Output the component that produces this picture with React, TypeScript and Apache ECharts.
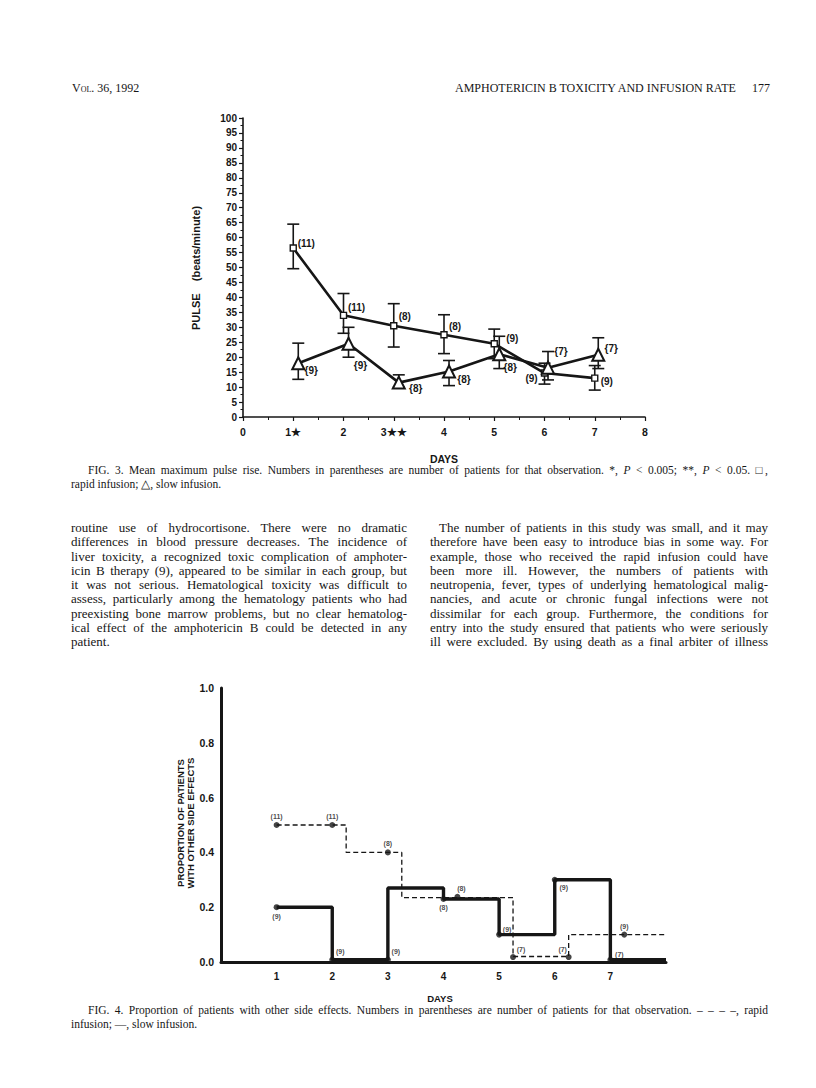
import React, { useEffect, useRef } from 'react';
import * as echarts from 'echarts';

// ---------- FIG. 3 data (pulse rise) ----------
const pulseTicks = [0, 1, 2, 3, 4, 5, 6, 7, 8];
const pulseTickLabels = ['0', '1★', '2', '3★★', '4', '5', '6', '7', '8'];
const rapidDays = [1, 2, 3, 4, 5, 6, 7];
const rapidMean = [56.5, 34, 30.5, 27.5, 24.5, 14.7, 13];
const rapidLow = [49.6, 28, 23.4, 21.2, 19.5, 11, 9];
const rapidHigh = [64.5, 41.3, 37.9, 34.2, 29.4, 18, 17.2];
const rapidN = ['(11)', '(11)', '(8)', '(8)', '(9)', '(9)', '(9)'];
const slowDays = [1.1, 2.1, 3.1, 4.1, 5.1, 6.07, 7.07];
const slowMean = [18, 24.5, 11.5, 15.2, 21, 16.5, 20.8];
const slowLow = [12.6, 20, 10, 10.5, 16.2, 12.4, 16.2];
const slowHigh = [24.7, 30, 14.1, 18.9, 27, 21.9, 26.5];
const slowN = ['{9}', '{9}', '{8}', '{8}', '{8}', '{7}', '{7}'];

// ---------- FIG. 4 data (proportion with other side effects) ----------
const propTicks = [0, 0.2, 0.4, 0.6, 0.8, 1.0];
const rapidStepX = [1, 2.25, 3.25, 5.25, 6.25, 8];
const rapidStepY = [0.5, 0.4, 0.235, 0.02, 0.1, 0.1];
const slowStepX = [1, 2, 3, 4, 5, 6, 7, 8];
const slowStepY = [0.2, 0.008, 0.27, 0.23, 0.1, 0.3, 0.008, 0.008];
const rapidDotX = [1, 2, 3, 4.25, 5.25, 6.25, 7.25];
const rapidDotY = [0.5, 0.5, 0.4, 0.238, 0.018, 0.018, 0.1];
const rapidDotN = ['(11)', '(11)', '(8)', '(8)', '(7)', '(7)', '(9)'];
const slowDotX = [1, 2, 3, 4, 5, 6, 7];
const slowDotY = [0.2, 0.008, 0.008, 0.23, 0.1, 0.3, 0.008];
const slowDotN = ['(9)', '(9)', '(9)', '(8)', '(9)', '(9)', '(7)'];

// label offsets (styling, px)
const rapidLabelOff = [[13, -5], [13, -8], [11, -9], [11, -8], [18, -5], [-13, 5], [12, 3]];
const slowLabelOff = [[13, 7], [12, 22], [17, 6], [15, 8], [11, 13], [13, -16], [13, -6]];
const rapidDotOff = [[0, -9], [0, -9], [0, -9], [4, -8], [8, -8], [-6, -8], [0, -8]];
const slowDotOff = [[0, 9], [8, -8], [8, -8], [0, 9], [8, -5], [9, 8], [9, -5]];

const INK = '#161616';
const SANS = '"Liberation Sans", Arial, sans-serif';
const SERIF = '"Liberation Serif", "Times New Roman", serif';

const leftCol = [
  'routine use of hydrocortisone. There were no dramatic',
  'differences in blood pressure decreases. The incidence of',
  'liver toxicity, a recognized toxic complication of amphoter-',
  'icin B therapy (9), appeared to be similar in each group, but',
  'it was not serious. Hematological toxicity was difficult to',
  'assess, particularly among the hematology patients who had',
  'preexisting bone marrow problems, but no clear hematolog-',
  'ical effect of the amphotericin B could be detected in any',
  'patient.',
];
const rightCol = [
  'The number of patients in this study was small, and it may',
  'therefore have been easy to introduce bias in some way. For',
  'example, those who received the rapid infusion could have',
  'been more ill. However, the numbers of patients with',
  'neutropenia, fever, types of underlying hematological malig-',
  'nancies, and acute or chronic fungal infections were not',
  'dissimilar for each group. Furthermore, the conditions for',
  'entry into the study ensured that patients who were seriously',
  'ill were excluded. By using death as a final arbiter of illness',
];

function errorBarRender(params: any, api: any) {
  const x = api.value(0);
  const lo = api.value(1);
  const hi = api.value(2);
  const p1 = api.coord([x, hi]);
  const p2 = api.coord([x, lo]);
  const w = 6;
  const st = { stroke: INK, lineWidth: 1.6 };
  return {
    type: 'group',
    children: [
      { type: 'line', shape: { x1: p1[0], y1: p1[1], x2: p2[0], y2: p2[1] }, style: st },
      { type: 'line', shape: { x1: p1[0] - w, y1: p1[1], x2: p1[0] + w, y2: p1[1] }, style: st },
      { type: 'line', shape: { x1: p2[0] - w, y1: p2[1], x2: p2[0] + w, y2: p2[1] }, style: st },
    ],
  };
}

function Line({ text, left, top, width, justify, indent, size, lh }: any) {
  return (
    <div
      style={{
        position: 'absolute',
        left,
        top,
        width,
        fontFamily: SERIF,
        fontSize: size,
        lineHeight: lh + 'px',
        color: INK,
        whiteSpace: 'nowrap',
        textAlign: justify ? 'justify' : 'left',
        textAlignLast: justify ? 'justify' : 'left',
        textIndent: indent || 0,
      } as any}
      dangerouslySetInnerHTML={{ __html: text }}
    />
  );
}

export default function App() {
  const ref = useRef<HTMLDivElement>(null);

  useEffect(() => {
    if (!ref.current) return;
    const chart = echarts.init(ref.current, undefined, { renderer: 'svg' });
    const lbl = (s: string, off: number[], fs: number) => ({
      show: true,
      position: 'inside',
      offset: off,
      formatter: () => s,
      fontFamily: SANS,
      fontWeight: 'bold',
      fontSize: fs,
      color: INK,
      textBorderWidth: 0,
      textBorderColor: 'transparent',
      textShadowBlur: 0,
    });

    const option: any = {
      animation: false,
      backgroundColor: 'transparent',
      grid: [
        { left: 243, top: 118, width: 402, height: 299 },
        { left: 221, top: 688, width: 445, height: 274 },
      ],
      xAxis: [
        {
          gridIndex: 0,
          type: 'value',
          min: 0,
          max: 8,
          interval: 1,
          axisLine: { lineStyle: { color: INK, width: 1.6 } },
          axisTick: { show: true, length: 4, lineStyle: { color: INK, width: 1.2 } },
          minorTick: { show: true, splitNumber: 2, length: 3, lineStyle: { color: INK, width: 1 } },
          splitLine: { show: false },
          axisLabel: {
            margin: 9,
            fontFamily: SANS,
            fontWeight: 'bold',
            fontSize: 10.5,
            color: INK,
            formatter: (v: number) => {
              const i = pulseTicks.indexOf(v);
              return i >= 0 ? pulseTickLabels[i] : '';
            },
          },
        },
        {
          gridIndex: 1,
          type: 'value',
          min: 0,
          max: 8,
          interval: 1,
          axisLine: { lineStyle: { color: INK, width: 3 } },
          axisTick: { show: false },
          splitLine: { show: false },
          axisLabel: {
            margin: 9,
            fontFamily: SANS,
            fontWeight: 'bold',
            fontSize: 10,
            color: INK,
            formatter: (v: number) => (v === 0 || v === 8 ? '' : String(v)),
          },
        },
      ],
      yAxis: [
        {
          gridIndex: 0,
          type: 'value',
          min: 0,
          max: 100,
          interval: 5,
          axisLine: { show: true, lineStyle: { color: INK, width: 1.6 } },
          axisTick: { show: true, length: 4, lineStyle: { color: INK, width: 1.2 } },
          minorTick: { show: true, splitNumber: 2, length: 2.5, lineStyle: { color: INK, width: 1 } },
          splitLine: { show: false },
          axisLabel: { margin: 6, fontFamily: SANS, fontWeight: 'bold', fontSize: 10, color: INK },
        },
        {
          gridIndex: 1,
          type: 'value',
          min: 0,
          max: 1,
          interval: 0.2,
          axisLine: { show: true, lineStyle: { color: INK, width: 3 } },
          axisTick: { show: false },
          splitLine: { show: false },
          axisLabel: {
            margin: 7,
            fontFamily: SANS,
            fontWeight: 'bold',
            fontSize: 10.5,
            color: INK,
            formatter: (v: number) => {
              const i = propTicks.findIndex((t) => Math.abs(t - v) < 1e-6);
              return i >= 0 ? propTicks[i].toFixed(1) : '';
            },
          },
        },
      ],
      series: [
        {
          type: 'custom',
          xAxisIndex: 0,
          yAxisIndex: 0,
          renderItem: errorBarRender,
          encode: { x: 0, y: [1, 2] },
          data: rapidDays.map((d, i) => [d, rapidLow[i], rapidHigh[i]]),
          z: 2,
        },
        {
          type: 'custom',
          xAxisIndex: 0,
          yAxisIndex: 0,
          renderItem: errorBarRender,
          encode: { x: 0, y: [1, 2] },
          data: slowDays.map((d, i) => [d, slowLow[i], slowHigh[i]]),
          z: 2,
        },
        {
          type: 'line',
          xAxisIndex: 0,
          yAxisIndex: 0,
          symbol: 'rect',
          symbolSize: 6,
          lineStyle: { color: INK, width: 2.6 },
          itemStyle: { color: '#fff', borderColor: INK, borderWidth: 1.4 },
          data: rapidDays.map((d, i) => ({
            value: [d, rapidMean[i]],
            label: lbl(rapidN[i], rapidLabelOff[i], 10),
          })),
          z: 3,
        },
        {
          type: 'line',
          xAxisIndex: 0,
          yAxisIndex: 0,
          symbol: 'triangle',
          symbolSize: 12,
          lineStyle: { color: INK, width: 2.6 },
          itemStyle: { color: '#fff', borderColor: INK, borderWidth: 2 },
          data: slowDays.map((d, i) => ({
            value: [d, slowMean[i]],
            label: lbl(slowN[i], slowLabelOff[i], 10),
          })),
          z: 3,
        },
        {
          type: 'line',
          xAxisIndex: 1,
          yAxisIndex: 1,
          step: 'end',
          symbol: 'none',
          lineStyle: { color: INK, width: 1.3, type: [5, 3] },
          data: rapidStepX.map((x, i) => [x, rapidStepY[i]]),
          z: 2,
        },
        {
          type: 'line',
          xAxisIndex: 1,
          yAxisIndex: 1,
          step: 'end',
          symbol: 'none',
          lineStyle: { color: INK, width: 3.4 },
          data: slowStepX.map((x, i) => [x, slowStepY[i]]),
          z: 3,
        },
        {
          type: 'scatter',
          xAxisIndex: 1,
          yAxisIndex: 1,
          symbol: 'circle',
          symbolSize: 6,
          itemStyle: { color: INK },
          data: rapidDotX.map((x, i) => ({
            value: [x, rapidDotY[i]],
            label: lbl(rapidDotN[i], rapidDotOff[i], 7),
          })),
          z: 4,
        },
        {
          type: 'scatter',
          xAxisIndex: 1,
          yAxisIndex: 1,
          symbol: 'circle',
          symbolSize: 6,
          itemStyle: { color: INK },
          data: slowDotX.map((x, i) => ({
            value: [x, slowDotY[i]],
            label: lbl(slowDotN[i], slowDotOff[i], 7),
          })),
          z: 4,
        },
      ],
      graphic: [
        {
          type: 'text',
          x: 196,
          y: 268,
          rotation: Math.PI / 2,
          style: {
            text: 'PULSE    (beats/minute)',
            fontFamily: SANS,
            fontWeight: 'bold',
            fontSize: 11,
            fill: INK,
            textAlign: 'center',
            textVerticalAlign: 'middle',
          },
        },
        {
          type: 'text',
          x: 444,
          y: 459,
          style: {
            text: 'DAYS',
            fontFamily: SANS,
            fontWeight: 'bold',
            fontSize: 10.5,
            fill: INK,
            textAlign: 'center',
            textVerticalAlign: 'middle',
          },
        },
        {
          type: 'text',
          x: 180,
          y: 823,
          rotation: Math.PI / 2,
          style: {
            text: 'PROPORTION OF PATIENTS',
            fontFamily: SANS,
            fontWeight: 'bold',
            fontSize: 9.5,
            fill: INK,
            textAlign: 'center',
            textVerticalAlign: 'middle',
          },
        },
        {
          type: 'text',
          x: 190,
          y: 823,
          rotation: Math.PI / 2,
          style: {
            text: 'WITH OTHER SIDE EFFECTS',
            fontFamily: SANS,
            fontWeight: 'bold',
            fontSize: 9.5,
            fill: INK,
            textAlign: 'center',
            textVerticalAlign: 'middle',
          },
        },
        {
          type: 'text',
          x: 440,
          y: 998,
          style: {
            text: 'DAYS',
            fontFamily: SANS,
            fontWeight: 'bold',
            fontSize: 9.5,
            fill: INK,
            textAlign: 'center',
            textVerticalAlign: 'middle',
          },
        },
      ],
    };
    chart.setOption(option);
    return () => chart.dispose();
  }, []);

  const lh = 14.25;
  return (
    <div style={{ position: 'absolute', left: 0, top: 0, width: 816, height: 1088, background: '#fff', overflow: 'hidden' }}>
      <div ref={ref} style={{ position: 'absolute', left: 0, top: 0, width: 816, height: 1088 }} />
      {/* running header */}
      <div style={{ position: 'absolute', left: 72, top: 81, fontFamily: SERIF, fontSize: 12, color: INK, fontVariant: 'small-caps', whiteSpace: 'nowrap' }}>
        Vol. 36, 1992
      </div>
      <div style={{ position: 'absolute', left: 455, top: 81, width: 279, fontFamily: SERIF, fontSize: 12, color: INK, whiteSpace: 'nowrap', textAlign: 'justify', textAlignLast: 'justify' } as any}>
        AMPHOTERICIN B TOXICITY AND INFUSION RATE
      </div>
      <div style={{ position: 'absolute', left: 752, top: 81, fontFamily: SERIF, fontSize: 12, color: INK }}>177</div>

      {/* FIG. 3 caption */}
      <Line left={88} top={463} width={680} size={11.5} lh={14} justify
        text={'FIG. 3. Mean maximum pulse rise. Numbers in parentheses are number of patients for that observation. *, <i>P</i> &lt; 0.005; **, <i>P</i> &lt; 0.05. □,'} />
      <Line left={71} top={477} width={300} size={11.5} lh={14}
        text={'rapid infusion; △, slow infusion.'} />

      {/* body text */}
      {leftCol.map((t, i) => (
        <Line key={'l' + i} left={71} top={521 + i * lh} width={336} size={13} lh={14}
          justify={i < leftCol.length - 1} text={t} />
      ))}
      {rightCol.map((t, i) => (
        <Line key={'r' + i} left={430} top={521 + i * lh} width={338} size={13} lh={14}
          justify indent={i === 0 ? 9 : 0} text={t} />
      ))}

      {/* FIG. 4 caption */}
      <Line left={88} top={1003} width={680} size={11.5} lh={14} justify
        text={'FIG. 4. Proportion of patients with other side effects. Numbers in parentheses are number of patients for that observation. – – – –, rapid'} />
      <Line left={71} top={1017} width={300} size={11.5} lh={14}
        text={'infusion; —, slow infusion.'} />
    </div>
  );
}
